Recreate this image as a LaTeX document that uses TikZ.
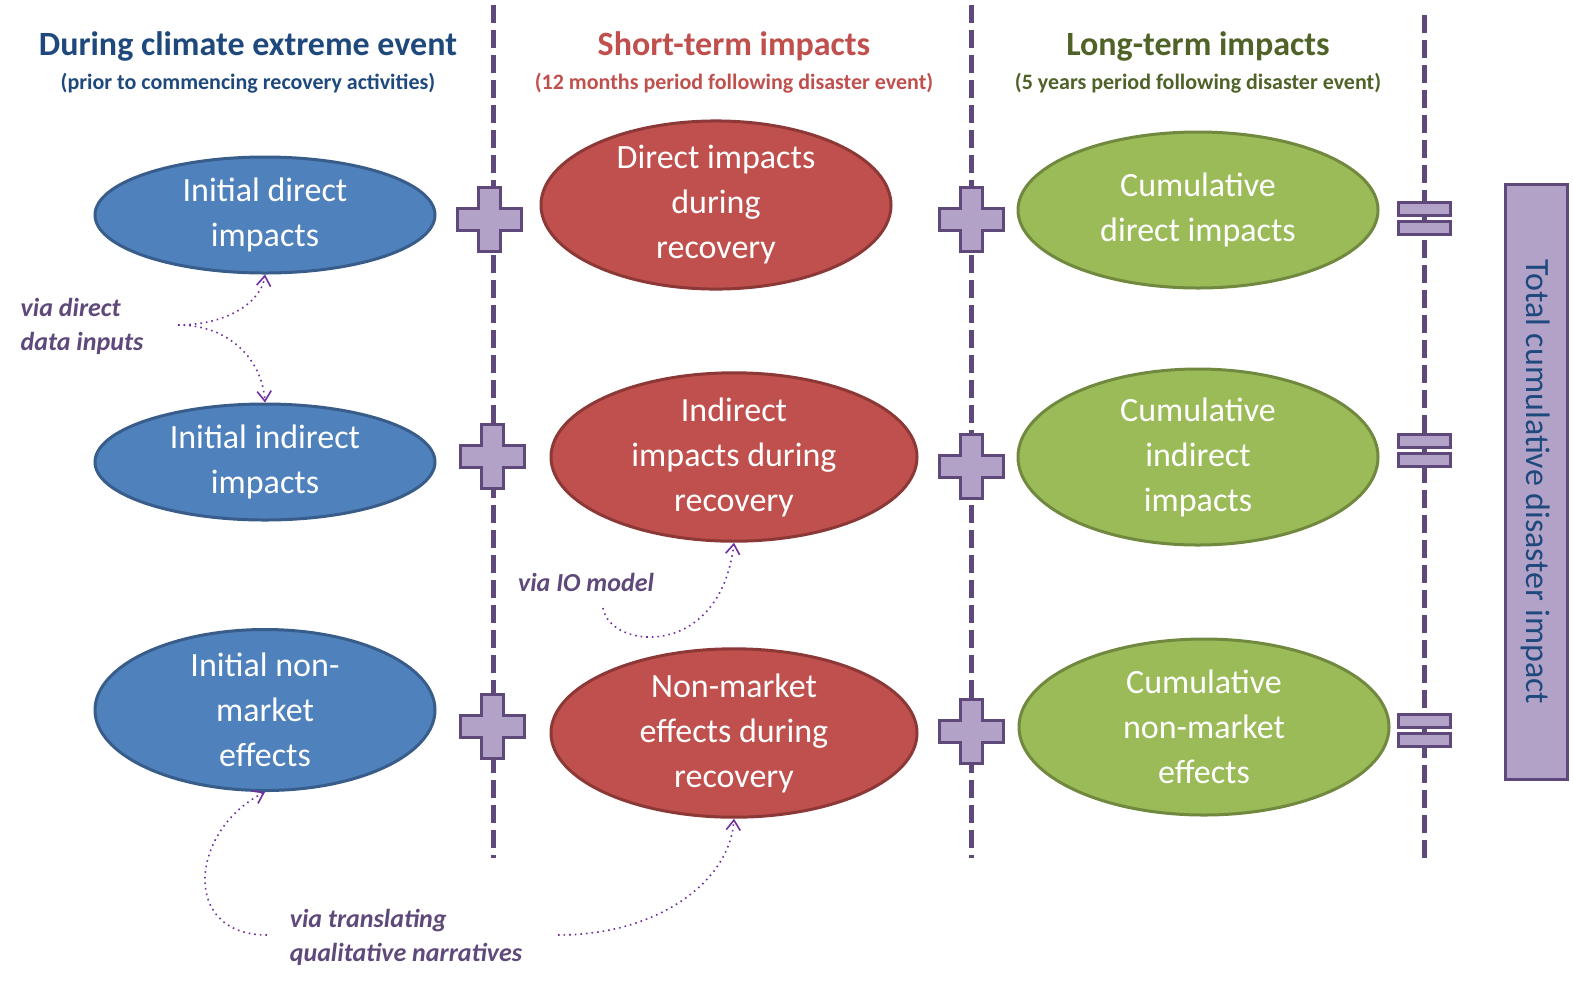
\documentclass[tikz,border=0pt]{standalone}
\usepackage{fontspec}
\setmainfont{Carlito}
\usetikzlibrary{shapes.geometric, arrows.meta}
\definecolor{dblue}{HTML}{1F497D}
\definecolor{ebluefill}{HTML}{4F81BD}
\definecolor{eblueline}{HTML}{385D8A}
\definecolor{eredfill}{HTML}{C0504D}
\definecolor{eredline}{HTML}{8C3836}
\definecolor{egreenfill}{HTML}{9BBB59}
\definecolor{egreenline}{HTML}{71893F}
\definecolor{dgreen}{HTML}{4F6228}
\definecolor{lpurple}{HTML}{B3A2C7}
\definecolor{dpurple}{HTML}{5F497A}
\definecolor{vpurple}{HTML}{7030A0}

\tikzset{
  phase/.style={ellipse, draw, line width=1.5pt, inner sep=0pt, text=white,
    align=center, font=\fontsize{17}{22.5}\selectfont},
  bluephase/.style={phase, fill=ebluefill, draw=eblueline},
  redphase/.style={phase, fill=eredfill, draw=eredline},
  greenphase/.style={phase, fill=egreenfill, draw=egreenline},
  divider/.style={dpurple, line width=2.5pt, dash pattern=on 9pt off 3.5pt},
  sign/.style={fill=lpurple, draw=dpurple, line width=1.5pt},
  via/.style={vpurple, line width=0.8pt, dotted, -{Straight Barb[length=5pt,width=7pt]}},
  vialabel/.style={text=dpurple, font=\fontsize{13}{17}\selectfont\bfseries\itshape, align=left},
  head/.style={font=\fontsize{17}{20}\selectfont\bfseries},
  subhead/.style={font=\fontsize{11}{13}\selectfont\bfseries}
}
\newcommand{\plussign}[1]{%
  \draw[sign] ($(#1)+(-32,-7)$) -- ++(21,0) -- ++(0,-21) -- ++(22,0) -- ++(0,21) -- ++(21,0)
    -- ++(0,22) -- ++(-21,0) -- ++(0,21) -- ++(-22,0) -- ++(0,-21) -- ++(-21,0) -- cycle;}
\newcommand{\eqsign}[1]{%
  \draw[sign] ($(#1)+(-26,-16)$) rectangle ++(52,13);
  \draw[sign] ($(#1)+(-26,3)$) rectangle ++(52,13);}
\usetikzlibrary{calc}

\begin{document}
\begin{tikzpicture}[x=0.5pt, y=-0.5pt]
    \useasboundingbox (0,0) rectangle (1573,982);
    % headings
    \node[head, text=dblue] (h1) at (248,46) {During climate extreme event};
    \node[subhead, text=dblue] (s1) at (248,83) {(prior to commencing recovery activities)};
    \node[head, text=eredfill] (h2) at (734,46) {Short-term impacts};
    \node[subhead, text=eredfill] (s2) at (734,83) {(12 months period following disaster event)};
    \node[head, text=dgreen] (h3) at (1198,46) {Long-term impacts};
    \node[subhead, text=dgreen] (s3) at (1198,83) {(5 years period following disaster event)};
    % dividers
    \coordinate (d1t) at (493,5);   \coordinate (d1b) at (493,858);
    \coordinate (d2t) at (971,5);   \coordinate (d2b) at (971,858);
    \coordinate (d3t) at (1424,15); \coordinate (d3b) at (1424,858);
    \draw[divider] (d1t) -- (d1b);
    \draw[divider] (d2t) -- (d2b);
    \draw[divider] (d3t) -- (d3b);
    % phases
    \node[bluephase, minimum width=340pt*0.5, minimum height=116pt*0.5] (id) at (265,215) {Initial direct\\impacts};
    \node[bluephase, minimum width=340pt*0.5, minimum height=116pt*0.5] (ii) at (265,462) {Initial indirect\\impacts};
    \node[bluephase, minimum width=340pt*0.5, minimum height=140pt*0.5] (in) at (265,710) {Initial non-\\market\\effects};
    \node[redphase, minimum width=350pt*0.5, minimum height=160pt*0.5] (rd) at (716,205) {Direct impacts\\during\\recovery};
    \node[redphase, minimum width=366pt*0.5, minimum height=156pt*0.5] (ri) at (734,457) {Indirect\\impacts during\\recovery};
    \node[redphase, minimum width=366pt*0.5, minimum height=140pt*0.5] (rn) at (734,733) {Non-market\\effects during\\recovery};
    \node[greenphase, minimum width=360pt*0.5, minimum height=156pt*0.5] (cd) at (1198,210) {Cumulative\\direct impacts};
    \node[greenphase, minimum width=360pt*0.5, minimum height=176pt*0.5] (ci) at (1198,457) {Cumulative\\indirect\\impacts};
    \node[greenphase, minimum width=370pt*0.5, minimum height=176pt*0.5] (cn) at (1204,727) {Cumulative\\non-market\\effects};
    % signs
    \plussign{489,215} \plussign{492,452} \plussign{492,722}
    \plussign{971,215} \plussign{971,462} \plussign{971,727}
    \eqsign{1424,218} \eqsign{1424,450} \eqsign{1424,730}
    % total
    \node[draw=dpurple, fill=lpurple, line width=1.5pt, minimum width=595pt*0.5, minimum height=62pt*0.5,
      rotate=-90, text=dblue, font=\fontsize{17}{20}\selectfont] (total) at (1536,482) {Total cumulative disaster impact};
    % data routes
    \node[vialabel] (vd) at (82,326) {via direct\\data inputs};
    \node[vialabel] (vio) at (586,582) {via IO model};
    \node[vialabel] (vq) at (406,937) {via translating\\qualitative narratives};
    \coordinate (vdo) at (178,325);
    \coordinate (vioo) at (603,608);
    \coordinate (vql) at (267,935);
    \coordinate (vqr) at (558,935);
    \draw[via] (vdo) .. controls (230,325) and (262,300) .. (id.south);
    \draw[via] (vdo) .. controls (230,325) and (262,360) .. (ii.north);
    \draw[via] (vioo) .. controls (610,650) and (720,660) .. (ri.south);
    \draw[via] (vql) .. controls (180,935) and (190,830) .. (in.south);
    \draw[via] (vqr) .. controls (660,935) and (730,880) .. (rn.south);
\end{tikzpicture}
\end{document}
